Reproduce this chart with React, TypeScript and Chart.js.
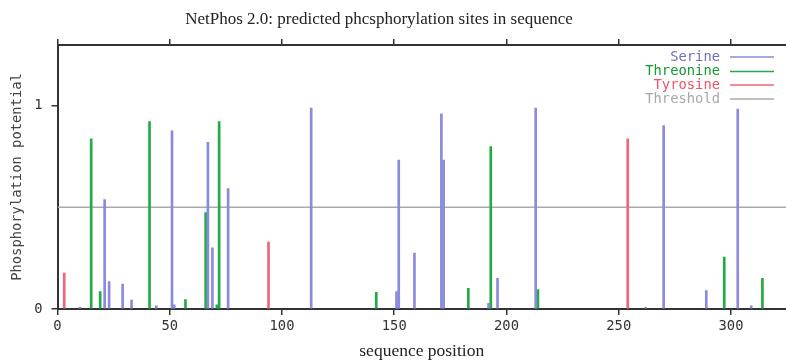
import React, { useEffect, useRef } from "react";
import { Chart, registerables } from "chart.js";

Chart.register(...registerables);

const chartTitle = "NetPhos 2.0: predicted phcsphorylation sites in sequence";
const xTitle = "sequence position";
const yTitle = "Phosphorylation potential";

const xTicks = [0, 50, 100, 150, 200, 250, 300];
const yTicks = [0, 1];
const xMin = 0;
const xMax = 324.5;
const yMax = 1.297;
const threshold = 0.5;

const serinePos = [10, 21, 23, 29, 33, 44, 51, 52, 67, 69, 76, 113, 151, 152, 159, 171, 172, 192, 196, 213, 262, 270, 289, 303, 309];
const serineVal = [0.01, 0.538, 0.135, 0.122, 0.044, 0.015, 0.875, 0.02, 0.819, 0.3, 0.592, 0.987, 0.086, 0.732, 0.275, 0.959, 0.732, 0.028, 0.151, 0.987, 0.008, 0.901, 0.09, 0.982, 0.015];

const threoninePos = [15, 19, 41, 57, 66, 71, 72, 142, 183, 193, 214, 297, 314];
const threonineVal = [0.836, 0.086, 0.921, 0.046, 0.474, 0.02, 0.921, 0.082, 0.102, 0.798, 0.095, 0.255, 0.151];

const tyrosinePos = [3, 94, 254];
const tyrosineVal = [0.176, 0.329, 0.836];

const serineColor = "#8a8ade";
const threonineColor = "#22aa44";
const tyrosineColor = "#ee6677";
const thresholdColor = "#aaaaaa";

const mono = "'DejaVu Sans Mono', monospace";
const serif = "'Liberation Serif', 'Times New Roman', serif";

const legendPlugin = {
  id: "rightLegend",
  afterDraw(chart: any) {
    const ctx = chart.ctx;
    const rows = [57, 71.5, 85, 99];
    ctx.save();
    ctx.font = `13.8px ${mono}`;
    ctx.textAlign = "right";
    ctx.textBaseline = "middle";
    chart.data.datasets.forEach((ds: any, i: number) => {
      const y = rows[i];
      ctx.fillStyle = ds.legendColor || ds.borderColor;
      ctx.fillText(ds.label, 720, y);
      ctx.strokeStyle = ds.borderColor;
      ctx.lineWidth = 1.5;
      ctx.beginPath();
      ctx.moveTo(730, y);
      ctx.lineTo(774, y);
      ctx.stroke();
    });
    ctx.restore();
  },
};

const titlePlugin = {
  id: "customTitle",
  afterDraw(chart: any) {
    const ctx = chart.ctx;
    ctx.save();
    ctx.font = `17px ${serif}`;
    ctx.fillStyle = "#222";
    ctx.textAlign = "center";
    ctx.textBaseline = "middle";
    ctx.fillText(chartTitle, 379, 20);
    ctx.restore();
  },
};

function toPoints(pos: number[], val: number[]) {
  return pos.map((p, i) => ({ x: p, y: val[i] }));
}

export default function App() {
  const ref = useRef<HTMLCanvasElement | null>(null);

  useEffect(() => {
    if (!ref.current) return;
    const barCommon = {
      type: "bar" as const,
      barThickness: 2,
      borderWidth: 0,
      grouped: false,
      order: 0,
    };
    const chart = new Chart(ref.current, {
      type: "bar",
      data: {
        datasets: [
          {
            ...barCommon,
            label: "Serine",
            data: toPoints(serinePos, serineVal),
            backgroundColor: serineColor,
            borderColor: serineColor,
            legendColor: "#6e6ec8",
          } as any,
          {
            ...barCommon,
            label: "Threonine",
            data: toPoints(threoninePos, threonineVal),
            backgroundColor: threonineColor,
            borderColor: threonineColor,
            legendColor: "#119933",
          } as any,
          {
            ...barCommon,
            label: "Tyrosine",
            data: toPoints(tyrosinePos, tyrosineVal),
            backgroundColor: tyrosineColor,
            borderColor: tyrosineColor,
            legendColor: "#ee5566",
          } as any,
          {
            type: "line",
            label: "Threshold",
            data: [
              { x: xMin, y: threshold },
              { x: xMax, y: threshold },
            ],
            borderColor: thresholdColor,
            borderWidth: 1.5,
            pointRadius: 0,
            fill: false,
            order: 10,
            legendColor: "#a8a8a8",
          } as any,
        ],
      },
      options: {
        animation: false,
        responsive: false,
        devicePixelRatio: 1,
        layout: { padding: { top: 30, left: 0, right: 0, bottom: 0 } },
        plugins: {
          legend: { display: false },
          tooltip: { enabled: false },
          title: { display: false },
        },
        scales: {
          x: {
            type: "linear",
            position: "bottom",
            min: xMin,
            max: xMax,
            offset: false,
            afterBuildTicks: (s: any) => {
              s.ticks = xTicks.map((v) => ({ value: v }));
            },
            afterFit: (s: any) => {
              s.height = 53;
            },
            grid: {
              display: true,
              offset: false,
              drawOnChartArea: false,
              drawTicks: true,
              tickLength: 6,
              color: "#333",
              lineWidth: 1.5,
            },
            border: { display: true, color: "#333", width: 2 },
            ticks: {
              color: "#333",
              font: { family: mono, size: 13.8 },
              padding: 3,
              maxRotation: 0,
            },
            title: {
              display: true,
              text: xTitle,
              color: "#222",
              font: { family: serif, size: 17.5 },
              padding: { top: 0, bottom: 0 },
            },
          },
          x2: {
            type: "linear",
            position: "top",
            min: xMin,
            max: xMax,
            offset: false,
            afterBuildTicks: (s: any) => {
              s.ticks = xTicks.map((v) => ({ value: v }));
            },
            afterFit: (s: any) => {
              s.height = 15;
            },
            grid: {
              display: true,
              offset: false,
              drawOnChartArea: false,
              drawTicks: true,
              tickLength: 6,
              color: "#333",
              lineWidth: 1.5,
            },
            border: { display: true, color: "#333", width: 2 },
            ticks: { display: false },
          },
          y: {
            type: "linear",
            position: "left",
            min: 0,
            max: yMax,
            afterBuildTicks: (s: any) => {
              s.ticks = yTicks.map((v) => ({ value: v }));
            },
            afterFit: (s: any) => {
              s.width = 57.5;
            },
            grid: {
              display: true,
              drawOnChartArea: false,
              drawTicks: true,
              tickLength: 6,
              color: "#333",
              lineWidth: 1.5,
            },
            border: { display: true, color: "#333", width: 2 },
            ticks: {
              color: "#333",
              font: { family: mono, size: 13.8 },
              padding: 9,
            },
            title: {
              display: true,
              text: yTitle,
              color: "#444",
              font: { family: mono, size: 13.8 },
              padding: { top: 9.5, bottom: 0 },
            },
          },
        },
      } as any,
      plugins: [legendPlugin, titlePlugin],
    });
    return () => chart.destroy();
  }, []);

  return (
    <canvas
      ref={ref}
      width={786}
      height={362}
      style={{ position: "fixed", left: 0, top: 0, width: 786, height: 362, background: "#fff" }}
    />
  );
}
